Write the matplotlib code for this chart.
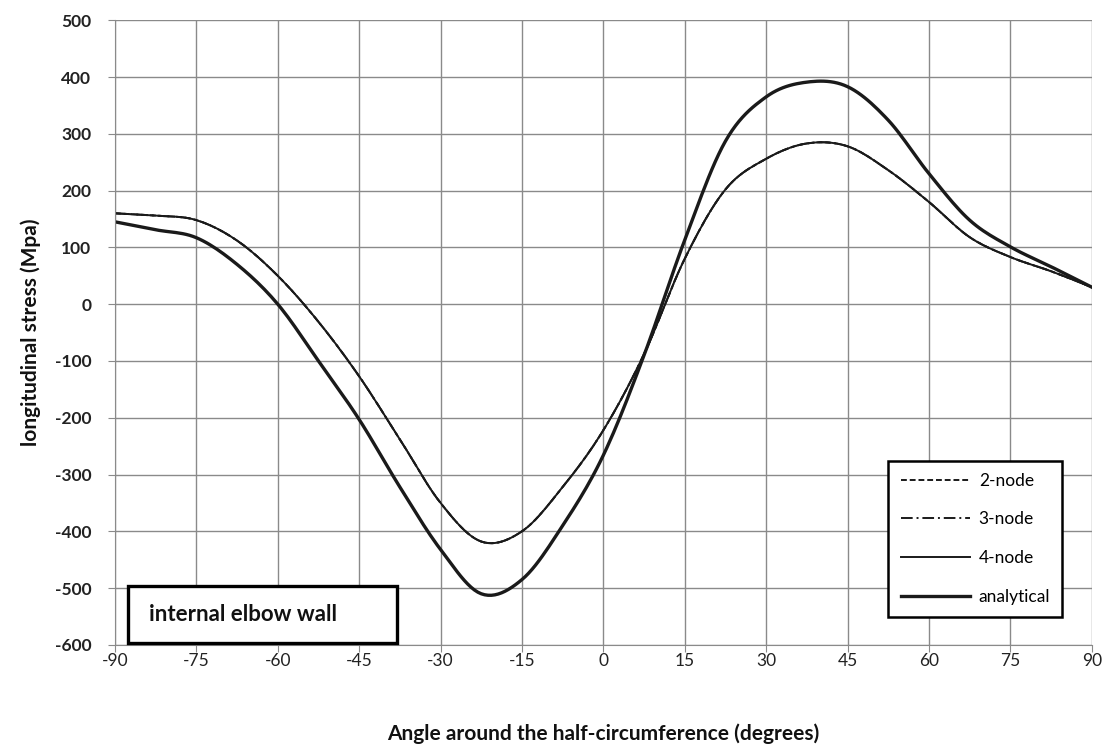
import numpy as np
import matplotlib
matplotlib.use("Agg")
import matplotlib.pyplot as plt
from matplotlib.lines import Line2D
from matplotlib.patches import Rectangle

# ---- data ----
angles = [-90, -82.5, -75, -67.5, -60, -52.5, -45, -37.5, -30, -22.5, -15, -7.5,
          0, 7.5, 15, 22.5, 30, 37.5, 45, 52.5, 60, 67.5, 75, 82.5, 90]
node2 = [160, 156, 148, 112, 50, -31, -127, -238, -350, -418, -400, -322,
         -222, -88, 80, 202, 256, 283, 278, 236, 180, 118, 83, 58, 30]
node3 = [160, 156, 148, 112, 50, -31, -127, -238, -350, -418, -400, -322,
         -222, -88, 80, 202, 256, 283, 278, 236, 180, 118, 83, 58, 30]
node4 = [160, 156, 148, 112, 50, -31, -127, -238, -350, -418, -400, -322,
         -222, -88, 80, 202, 256, 283, 278, 236, 180, 118, 83, 58, 30]
analytical = [145, 131, 117, 70, 0, -100, -203, -322, -432, -510, -485, -390,
              -266, -90, 113, 287, 365, 391, 383, 324, 230, 148, 101, 66, 30]

xticks = [-90, -75, -60, -45, -30, -15, 0, 15, 30, 45, 60, 75, 90]
yticks = [500, 400, 300, 200, 100, 0, -100, -200, -300, -400, -500, -600]
series_labels = ["2-node", "3-node", "4-node", "analytical"]
box_text = "internal elbow wall"
xlabel = "Angle around the half-circumference (degrees)"
ylabel = "longitudinal stress (Mpa)"


def smooth(x, y, n=12):
    """Catmull-Rom rendering of the read points (drawing style only)."""
    x = np.asarray(x, float); y = np.asarray(y, float)
    px = np.concatenate([[2 * x[0] - x[1]], x, [2 * x[-1] - x[-2]]])
    py = np.concatenate([[2 * y[0] - y[1]], y, [2 * y[-1] - y[-2]]])
    ox, oy = [], []
    t = np.linspace(0, 1, n, endpoint=False)
    for i in range(1, len(px) - 2):
        for arr, out in ((px, ox), (py, oy)):
            p0, p1, p2, p3 = arr[i - 1], arr[i], arr[i + 1], arr[i + 2]
            out.extend(0.5 * ((2 * p1) + (-p0 + p2) * t +
                              (2 * p0 - 5 * p1 + 4 * p2 - p3) * t ** 2 +
                              (-p0 + 3 * p1 - 3 * p2 + p3) * t ** 3))
    ox.append(x[-1]); oy.append(y[-1])
    return np.array(ox), np.array(oy)


plt.rcParams['font.family'] = ['Lato', 'DejaVu Sans']
plt.rcParams['axes.unicode_minus'] = False
fig = plt.figure(figsize=(11.14, 7.49), dpi=100)
ax = fig.add_axes([0.1032, 0.139, 0.8768, 0.834])

lc = '#1a1a1a'
ls2 = (0, (3, 1.5))
ls3 = (0, (6, 2, 1, 2))
sx, sy = smooth(angles, node2)
ax.plot(sx, sy, color=lc, lw=1.4, ls=ls2)
sx, sy = smooth(angles, node3)
ax.plot(sx, sy, color=lc, lw=1.4, ls=ls3)
sx, sy = smooth(angles, node4)
ax.plot(sx, sy, color=lc, lw=1.4, ls='-')
sx, sy = smooth(angles, analytical)
ax.plot(sx, sy, color=lc, lw=2.4, ls='-')

ax.set_xlim(-90, 90)
ax.set_ylim(-600, 500)
ax.set_xticks(xticks)
ax.set_yticks(yticks)
ax.grid(True, color='#8a8a8a', lw=1.0)
ax.set_axisbelow(True)
for s in ['top', 'right']:
    ax.spines[s].set_visible(False)
for s in ['left', 'bottom']:
    ax.spines[s].set_color('#8a8a8a')
ax.tick_params(axis='both', direction='out', length=5, color='#8a8a8a',
               labelsize=12.5, labelcolor='#222222')
ax.tick_params(axis='x', pad=1)
ax.tick_params(axis='y', pad=12)
for t in ax.get_yticklabels():
    t.set_fontweight('bold')

ax.set_xlabel(xlabel, fontsize=15, fontweight='bold', color='#111111')
ax.xaxis.set_label_coords(0.5, -0.125)
ax.set_ylabel(ylabel, fontsize=15, fontweight='bold', color='#111111')
ax.yaxis.set_label_coords(-0.076, 0.5)

handles = [
    Line2D([], [], color=lc, lw=1.4, ls=ls2),
    Line2D([], [], color=lc, lw=1.4, ls=ls3),
    Line2D([], [], color=lc, lw=1.4, ls='-'),
    Line2D([], [], color=lc, lw=2.4, ls='-'),
]
leg = ax.legend(handles, series_labels, loc='lower right',
                bbox_to_anchor=(0.970, 0.045), fontsize=12.5, frameon=True,
                fancybox=False, edgecolor='black', handlelength=4.0,
                labelspacing=1.3, borderpad=0.7, handletextpad=0.5,
                borderaxespad=0)
leg.get_frame().set_linewidth(1.8)
leg.get_frame().set_alpha(1)
leg._legend_box.align = 'left'

rect = Rectangle((0.0133, 0.0035), 0.2753, 0.0905, transform=ax.transAxes,
                 facecolor='white', edgecolor='black', lw=2.4, zorder=5,
                 clip_on=False)
ax.add_patch(rect)
ax.text(0.0348, 0.0488, box_text, transform=ax.transAxes, fontsize=16,
        fontweight='bold', color='#111111', va='center', ha='left', zorder=6)

fig.savefig('out.png', dpi=100)
